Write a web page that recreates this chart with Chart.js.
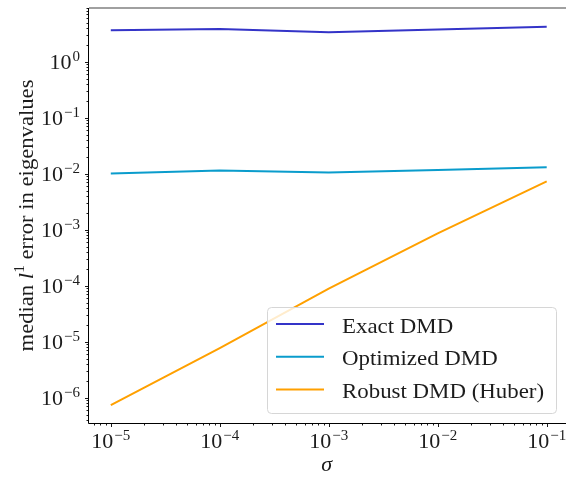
<!DOCTYPE html>
<html>
<head>
<meta charset="utf-8">
<script src="https://cdn.jsdelivr.net/npm/chart.js@4.4.0/dist/chart.umd.min.js"></script>
<style>
  html, body { margin: 0; padding: 0; background: #fff; overflow: hidden; }
  #wrap { position: relative; width: 570px; height: 477px; }
</style>
</head>
<body>
<div id="wrap"><canvas id="c"></canvas></div>
<script>
// data
const sigma = [1e-5, 1e-4, 1e-3, 1e-2, 1e-1];
const exactErr = [3.67, 3.83, 3.38, 3.78, 4.2];
const optErr = [0.0101, 0.0114, 0.0105, 0.0117, 0.0131];
const robustErr = [7.4e-7, 7.7e-6, 8.9e-5, 8.6e-4, 7.3e-3];

// tick labels (decade exponents)
const xDecades = [-5, -4, -3, -2, -1];
const yDecades = [0, -1, -2, -3, -4, -5, -6];

const seriesNames = ["Exact DMD", "Optimized DMD", "Robust DMD (Huber)"];
const seriesColors = ["#3434c8", "#0a9ccc", "#ffa000"];

const FONT = '"Liberation Serif", "Times New Roman", serif';
const INK = "#1c1c1c";

function pts(ys) {
  return sigma.map((s, i) => ({ x: s, y: ys[i] }));
}

// "10^e" with a raised exponent
function pow10(ctx, e, x, y, align) {
  const base = "10";
  const sup = (e < 0 ? "\u2212" : "") + Math.abs(e);
  ctx.font = "22px " + FONT;
  const wb = ctx.measureText(base).width;
  ctx.font = "15px " + FONT;
  const ws = ctx.measureText(sup).width;
  const w = wb + 1 + ws;
  const x0 = align === "right" ? x - w : x - w / 2;
  ctx.textAlign = "left";
  ctx.textBaseline = "alphabetic";
  ctx.font = "22px " + FONT;
  ctx.fillText(base, x0, y);
  ctx.font = "15px " + FONT;
  ctx.fillText(sup, x0 + wb + 1, y - 8);
}

function minorValues(min, max) {
  const out = [];
  for (let n = Math.floor(Math.log10(min)); n <= Math.ceil(Math.log10(max)); n++) {
    for (let k = 2; k <= 9; k++) {
      const v = k * Math.pow(10, n);
      if (v >= min && v <= max) out.push(v);
    }
  }
  return out;
}

const axesPlugin = {
  id: "mplAxes",
  afterDraw(chart) {
    const { ctx, chartArea: a, scales } = chart;
    const xs = scales.x, ys = scales.y;
    ctx.save();

    // spines
    ctx.strokeStyle = "#808080";
    ctx.lineWidth = 1.5;
    ctx.beginPath();
    ctx.moveTo(a.left, a.top);
    ctx.lineTo(a.right, a.top);
    ctx.stroke();
    ctx.strokeStyle = "#000";
    ctx.lineWidth = 1;
    ctx.beginPath();
    ctx.moveTo(a.left - 0.5, a.top);
    ctx.lineTo(a.left - 0.5, a.bottom + 0.5);
    ctx.lineTo(a.right, a.bottom + 0.5);
    ctx.stroke();

    // ticks
    ctx.lineWidth = 0.9;
    ctx.beginPath();
    xDecades.forEach(e => {
      const px = Math.round(xs.getPixelForValue(Math.pow(10, e))) + 0.5;
      ctx.moveTo(px, a.bottom); ctx.lineTo(px, a.bottom + 4);
    });
    minorValues(xs.min, xs.max).forEach(v => {
      const px = Math.round(xs.getPixelForValue(v)) + 0.5;
      ctx.moveTo(px, a.bottom); ctx.lineTo(px, a.bottom + 2.5);
    });
    yDecades.forEach(e => {
      const py = Math.round(ys.getPixelForValue(Math.pow(10, e))) + 0.5;
      ctx.moveTo(a.left, py); ctx.lineTo(a.left - 4, py);
    });
    minorValues(ys.min, ys.max).forEach(v => {
      const py = Math.round(ys.getPixelForValue(v)) + 0.5;
      ctx.moveTo(a.left, py); ctx.lineTo(a.left - 2.5, py);
    });
    ctx.stroke();

    // tick labels
    ctx.fillStyle = INK;
    xDecades.forEach(e => pow10(ctx, e, xs.getPixelForValue(Math.pow(10, e)), a.bottom + 25, "center"));
    yDecades.forEach(e => pow10(ctx, e, a.left - 9, ys.getPixelForValue(Math.pow(10, e)) + 7.5, "right"));

    // axis titles
    ctx.font = "italic 22px " + FONT;
    ctx.textAlign = "center";
    ctx.fillText("\u03c3", (a.left + a.right) / 2 - 2, a.bottom + 48);

    ctx.save();
    ctx.translate(33, (a.top + a.bottom) / 2);
    ctx.rotate(-Math.PI / 2);
    ctx.scale(1.03, 1);
    const parts = [
      ["median ", "22px " + FONT, 0],
      ["l", "italic 22px " + FONT, 0],
      ["1", "15px " + FONT, -9],
      [" error in eigenvalues", "22px " + FONT, 0]
    ];
    let total = 0;
    parts.forEach(p => { ctx.font = p[1]; p.push(ctx.measureText(p[0]).width); total += p[3]; });
    let cx = -total / 2;
    ctx.textAlign = "left";
    parts.forEach(p => { ctx.font = p[1]; ctx.fillText(p[0], cx, p[2]); cx += p[3]; });
    ctx.restore();

    // legend
    const lx = 267, ly = 307, lw = 289, lh = 106;
    ctx.beginPath();
    ctx.roundRect(lx + 0.5, ly + 0.5, lw, lh, 4);
    ctx.fillStyle = "rgba(255,255,255,0.8)";
    ctx.fill();
    ctx.strokeStyle = "#d6d6d6";
    ctx.lineWidth = 1;
    ctx.stroke();
    chart.data.datasets.forEach((ds, i) => {
      const ry = 324 + i * 32.7;
      ctx.strokeStyle = ds.borderColor;
      ctx.lineWidth = 2;
      ctx.beginPath();
      ctx.moveTo(276, ry); ctx.lineTo(324, ry);
      ctx.stroke();
      ctx.save();
      ctx.translate(342, ry + 8.5);
      ctx.scale(1.04, 1);
      ctx.fillStyle = INK;
      ctx.font = "22px " + FONT;
      ctx.textAlign = "left";
      ctx.fillText(ds.label, 0, 0);
      ctx.restore();
    });

    ctx.restore();
  }
};

function ds(i, ys) {
  return {
    label: seriesNames[i],
    data: pts(ys),
    borderColor: seriesColors[i],
    borderWidth: 2,
    pointRadius: 0,
    tension: 0,
    fill: false
  };
}

new Chart(document.getElementById("c"), {
  type: "line",
  data: {
    datasets: [ds(0, exactErr), ds(1, optErr), ds(2, robustErr)]
  },
  options: {
    responsive: true,
    maintainAspectRatio: false,
    animation: false,
    layout: { padding: { top: 8, right: 1.5, left: 0, bottom: 0 } },
    plugins: { legend: { display: false }, tooltip: { enabled: false } },
    scales: {
      x: {
        type: "logarithmic",
        min: Math.pow(10, -5.2),
        max: Math.pow(10, -0.8),
        ticks: { display: false },
        grid: { display: false },
        border: { display: false },
        afterFit(s) { s.height = 54; }
      },
      y: {
        type: "logarithmic",
        min: Math.pow(10, -6.45),
        max: Math.pow(10, 0.96),
        ticks: { display: false },
        grid: { display: false },
        border: { display: false },
        afterFit(s) { s.width = 89; }
      }
    }
  },
  plugins: [axesPlugin]
});
</script>
</body>
</html>
